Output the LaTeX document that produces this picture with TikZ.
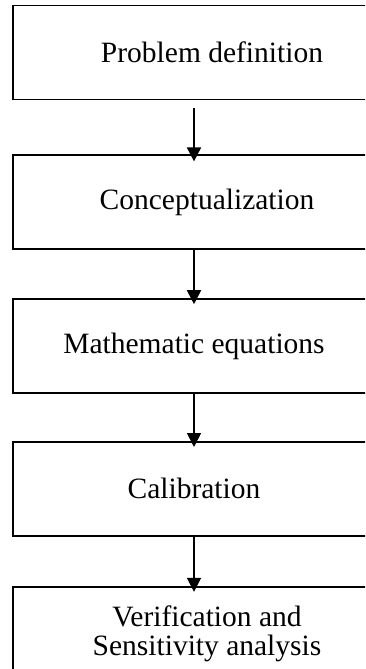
\documentclass[tikz,border=0pt]{standalone}
\usepackage{fontspec}
\setmainfont{Liberation Serif}
\usetikzlibrary{arrows.meta,positioning}

\begin{document}
\begin{tikzpicture}[
  x=1pt, y=-1pt,
  stage/.style={
    draw=black,
    line width=1.8pt,
    minimum width=362pt,
    minimum height=94pt,
    align=center,
    font=\fontsize{29.5}{29}\selectfont
  },
  flow/.style={
    line width=1.8pt,
    -{Triangle[width=14pt,length=14pt]}
  }
]
\clip (0,0) rectangle (365,669);
\node[stage] (prob) at (194,52.5) {\hspace*{36pt}Problem definition};
\node[stage,below=54pt of prob] (conc) {\hspace*{26pt}Conceptualization};
\node[stage,below=48pt of conc] (math) {Mathematic equations};
\node[stage,below=47pt of math] (cali) {Calibration};
\node[stage,below=49pt of cali] (veri) {\hspace*{26pt}Verification and\\\hspace*{26pt}Sensitivity analysis};
% arrows between stages
\draw[flow] ([yshift=-8pt]prob.south) -- ([yshift=-7pt]conc.north);
\draw[flow] (conc.south) -- ([yshift=-6pt]math.north);
\draw[flow] (math.south) -- ([yshift=-6pt]cali.north);
\draw[flow] (cali.south) -- ([yshift=-6pt]veri.north);
\end{tikzpicture}
\end{document}
